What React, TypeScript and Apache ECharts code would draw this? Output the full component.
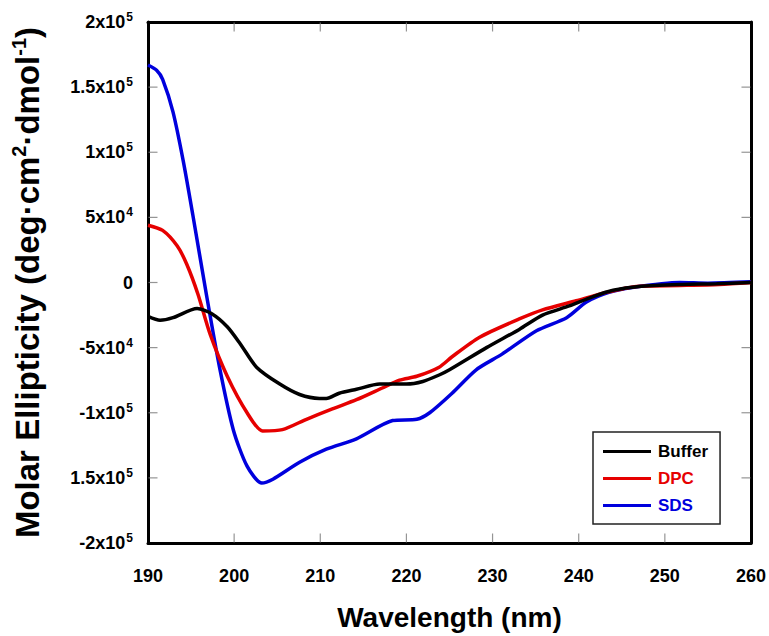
import React, { useEffect, useRef } from "react";
import * as echarts from "echarts";

const xTicks = [190, 200, 210, 220, 230, 240, 250, 260];
const yTickValues = [200000, 150000, 100000, 50000, 0, -50000, -100000, -150000, -200000];
const yTickLabels = [
  "{b|2x10}{s|5}",
  "{b|1.5x10}{s|5}",
  "{b|1x10}{s|5}",
  "{b|5x10}{s|4}",
  "{b|0}",
  "{b|-5x10}{s|4}",
  "{b|-1x10}{s|5}",
  "{b|1.5x10}{s|5}",
  "{b|-2x10}{s|5}",
];

const bufferWl = [190, 191.4, 192.9, 195.7, 197.4, 199.2, 200.7, 202.6, 205.3, 207.6, 209.9, 210.7, 212.2, 214.2, 216.9, 220, 221.9, 223.8, 225, 229.3, 233.1, 235.8, 238.9, 241.6, 244, 247, 252, 256, 260];
const bufferVal = [-26000, -29000, -27000, -20000, -24000, -34000, -47000, -65000, -78000, -86000, -89000, -89000, -85000, -82000, -78000, -78000, -76000, -71000, -67000, -50000, -36000, -25000, -18000, -11000, -6000, -3000, -1500, -1000, 0];

const dpcWl = [190, 191.7, 193.4, 194.5, 195.8, 197.2, 199.2, 201.5, 203.3, 205.6, 208.4, 211.4, 214.2, 217.2, 219.2, 221.2, 223.8, 225.3, 228.5, 233.1, 235.8, 239.7, 243.2, 246.7, 251.7, 256.3, 260];
const dpcVal = [44000, 40000, 28000, 14000, -9000, -39500, -72000, -100000, -114000, -113000, -105000, -97000, -90000, -81000, -75000, -72000, -65000, -57000, -42000, -28000, -21000, -14000, -7600, -3000, -2300, -1500, 0];

const sdsWl = [190, 191, 191.7, 192.9, 194.1, 195.2, 196.8, 198.3, 199.9, 201.5, 203.2, 204.5, 207.6, 210.7, 214.2, 218.4, 221.2, 222.7, 225.3, 228.1, 231.1, 235.1, 238.6, 240.9, 243.5, 246.2, 251.7, 255, 260];
const sdsVal = [167000, 163000, 156000, 131000, 93000, 52000, -10000, -65000, -113000, -141000, -154000, -151000, -138000, -128000, -120000, -106000, -105000, -100000, -85000, -67000, -55000, -37000, -27000, -15000, -7600, -3800, 0, -500, 500];

const seriesNames = ["Buffer", "DPC", "SDS"];
const seriesColors = ["#000000", "#e60000", "#0000dd"];

const zip = (a: number[], b: number[]) => a.map((x, i) => [x, b[i]]);

export default function App() {
  const ref = useRef<HTMLDivElement>(null);
  useEffect(() => {
    document.body.style.margin = "0";
    const chart = echarts.init(ref.current!, null, { renderer: "svg" });
    const font = "Liberation Sans, Arial, sans-serif";
    const datas = [zip(bufferWl, bufferVal), zip(dpcWl, dpcVal), zip(sdsWl, sdsVal)];
    const xMin = xTicks[0];
    const xMax = xTicks[xTicks.length - 1];
    const yMax = yTickValues[0];
    const yMin = yTickValues[yTickValues.length - 1];
    const innerX = xTicks.slice(1, -1);
    const innerY = yTickValues.slice(1, -1);
    const mkLine = () => ({ show: true, onZero: false, lineStyle: { color: "#000", width: 3 } });
    const tickColor = "#7a7a7a";
    const tickSeries = (data: number[][], size: number[], offset: number[]) => ({
      type: "scatter",
      data,
      symbol: "rect",
      symbolSize: size,
      symbolOffset: offset,
      itemStyle: { color: tickColor },
      silent: true,
      clip: false,
      z: 1,
      legendHoverLink: false,
    });
    chart.setOption({
      animation: false,
      grid: {
        left: 148,
        right: 17,
        top: 22,
        bottom: 90,
        show: false,
      },
      legend: {
        orient: "vertical",
        left: 593,
        top: 432,
        padding: [11, 12, 10, 10],
        itemGap: 10,
        itemWidth: 48,
        itemHeight: 3,
        icon: "rect",
        borderColor: "#222",
        borderWidth: 1.5,
        textStyle: { fontFamily: font, fontWeight: "bold", fontSize: 17, padding: [0, 0, 0, 2] },
        data: seriesNames.map((n, i) => ({ name: n, textStyle: { color: seriesColors[i] } })),
      },
      xAxis: [
        {
          type: "value",
          min: xMin,
          max: xMax,
          interval: 10,
          axisLine: mkLine(),
          axisTick: { show: false },
          splitLine: { show: false },
          axisLabel: {
            margin: 24,
            fontFamily: font,
            fontWeight: "bold",
            fontSize: 18,
            color: "#000",
            formatter: (v: number) => (xTicks.includes(v) ? String(v) : ""),
          },
          name: "Wavelength (nm)",
          nameLocation: "middle",
          nameGap: 60,
          nameTextStyle: { fontFamily: font, fontWeight: "bold", fontSize: 28, color: "#000" },
        },
        {
          type: "value",
          position: "top",
          min: xMin,
          max: xMax,
          interval: 10,
          axisLine: mkLine(),
          axisTick: { show: false },
          axisLabel: { show: false },
          splitLine: { show: false },
        },
      ],
      yAxis: [
        {
          type: "value",
          min: yMin,
          max: yMax,
          interval: 50000,
          axisLine: mkLine(),
          axisTick: { show: false },
          splitLine: { show: false },
          axisLabel: {
            margin: 15,
            formatter: (v: number) => {
              const i = yTickValues.indexOf(v);
              return i >= 0 ? yTickLabels[i] : "";
            },
            rich: {
              b: { fontFamily: font, fontWeight: "bold", fontSize: 18, color: "#000", lineHeight: 22 },
              s: { fontFamily: font, fontWeight: "bold", fontSize: 12, color: "#000", verticalAlign: "top", lineHeight: 22, padding: [0, 0, 10, 1] },
            },
          },
          name: "{t|Molar Ellipticity (deg·cm}{u|2}{t|·dmol}{u|-1}{t|)}",
          nameLocation: "middle",
          nameRotate: 90,
          nameGap: 103,
          nameTextStyle: {
            rich: {
              t: { fontFamily: font, fontWeight: "bold", fontSize: 33, color: "#000", lineHeight: 36 },
              u: { fontFamily: font, fontWeight: "bold", fontSize: 20, color: "#000", verticalAlign: "top", lineHeight: 36, padding: [0, 0, 18, 0] },
            },
          },
        },
        {
          type: "value",
          position: "right",
          min: yMin,
          max: yMax,
          interval: 50000,
          axisLine: mkLine(),
          axisTick: { show: false },
          axisLabel: { show: false },
          splitLine: { show: false },
        },
      ],
      series: [
        tickSeries(innerX.map((x) => [x, yMin]), [1.2, 9], [0, -5]),
        tickSeries(innerX.map((x) => [x, yMax]), [1.2, 9], [0, 5]),
        tickSeries(innerY.map((v) => [xMin, v]), [9, 1.2], [5, 0]),
        tickSeries(innerY.map((v) => [xMax, v]), [9, 1.2], [-5, 0]),
        ...seriesNames.map((n, i) => ({
          name: n,
          type: "line",
          data: datas[i],
          symbol: "none",
          smooth: 0.25,
          lineStyle: { color: seriesColors[i], width: 3.5 },
          itemStyle: { color: seriesColors[i] },
          z: 5 - i,
        })),
      ],
    });
    return () => chart.dispose();
  }, []);
  return <div ref={ref} style={{ width: 769, height: 636 }} />;
}
